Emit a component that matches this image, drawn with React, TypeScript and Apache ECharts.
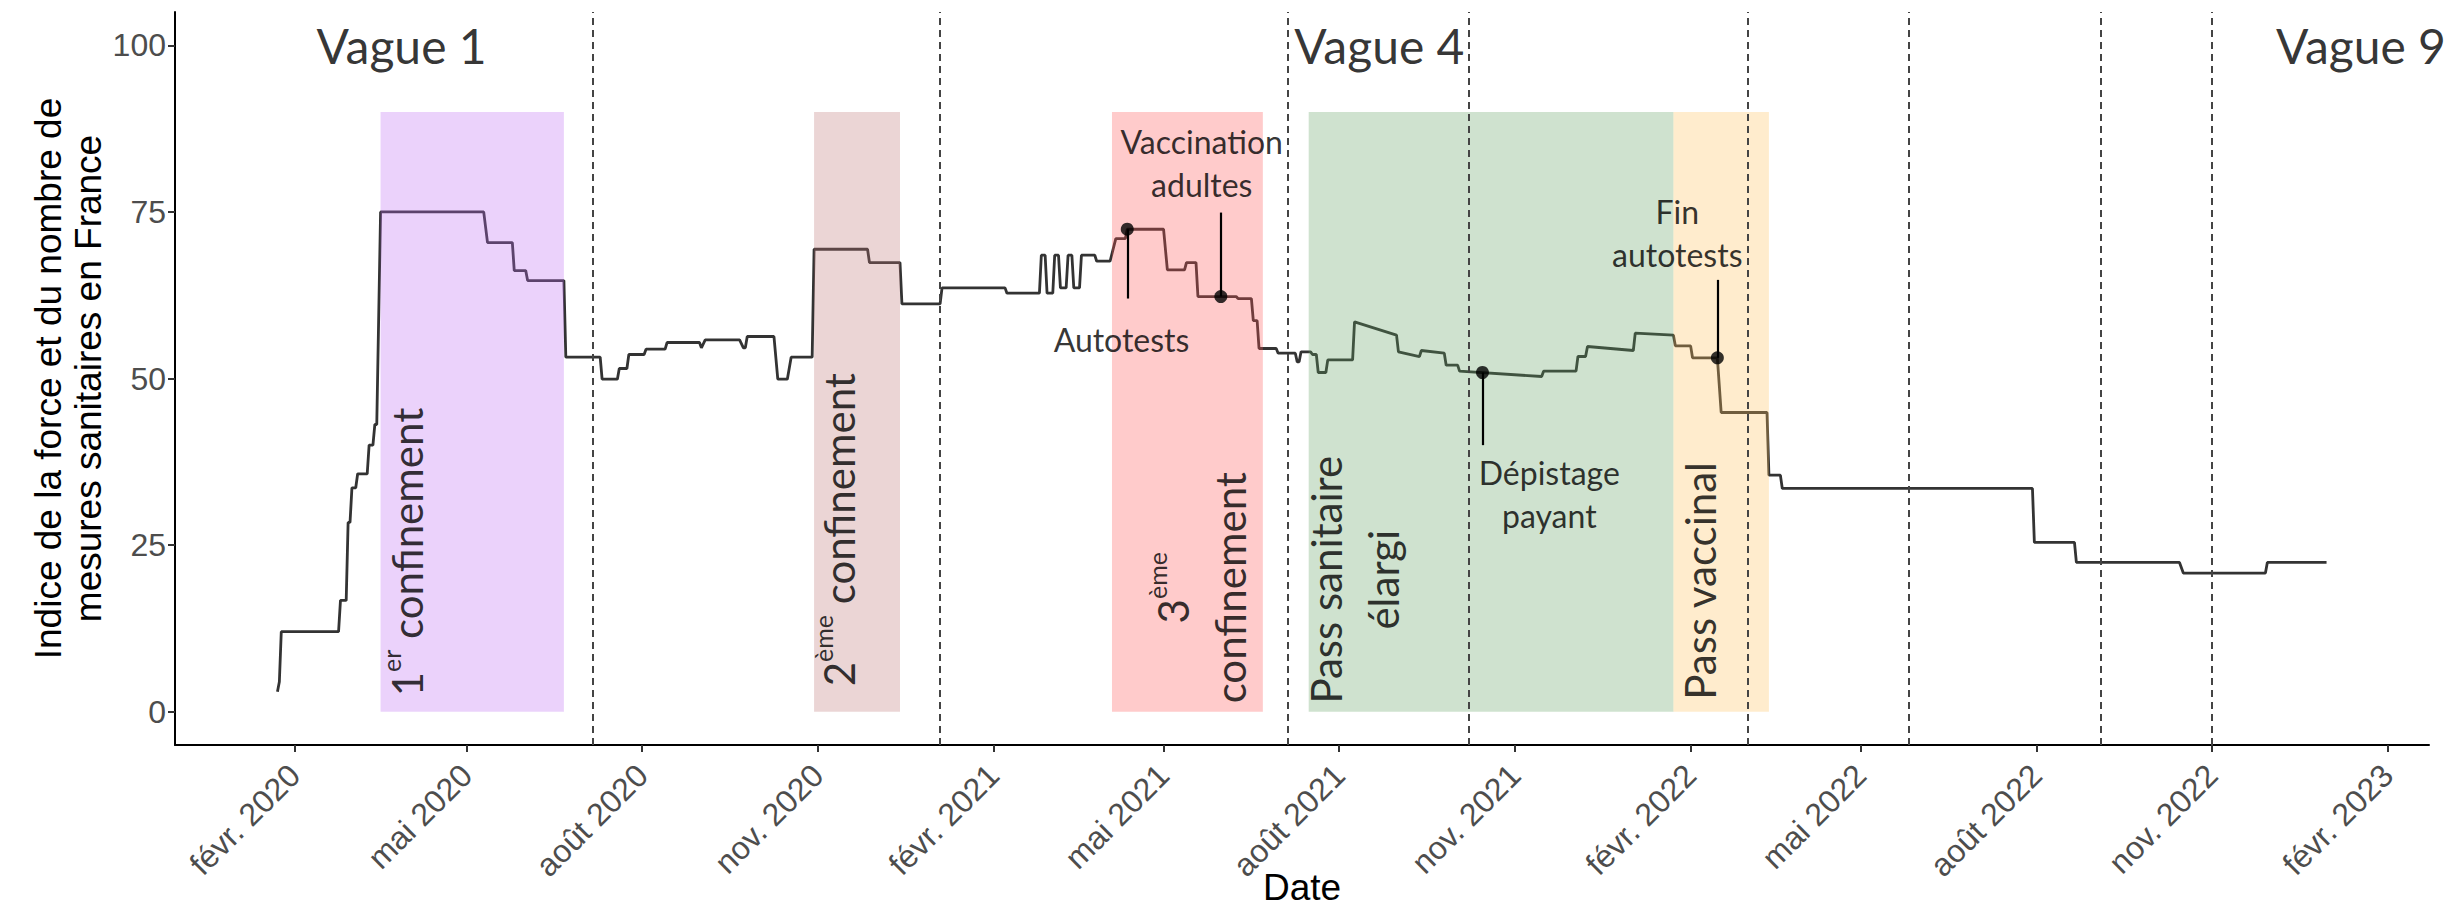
import React, { useEffect, useRef } from "react";
import * as echarts from "echarts";

// ---------- DATA ----------
// Index of strength / number of sanitary measures in France (daily)
const indexSeries: [string, number][] = [
  ["2020-01-23", 3.0], ["2020-01-24", 4.5], ["2020-01-25", 12.0], ["2020-02-24", 12.0],
  ["2020-02-25", 16.7], ["2020-02-28", 16.7], ["2020-02-29", 28.4], ["2020-03-01", 28.4],
  ["2020-03-02", 33.6], ["2020-03-04", 33.6], ["2020-03-05", 35.7], ["2020-03-10", 35.7],
  ["2020-03-11", 40.0], ["2020-03-13", 40.0], ["2020-03-14", 43.1], ["2020-03-15", 43.1],
  ["2020-03-17", 75.0], ["2020-05-10", 75.0], ["2020-05-12", 70.4], ["2020-05-25", 70.4],
  ["2020-05-26", 66.2], ["2020-06-01", 66.2], ["2020-06-02", 64.7], ["2020-06-21", 64.7],
  ["2020-06-22", 53.2], ["2020-07-10", 53.2], ["2020-07-11", 49.9], ["2020-07-19", 49.9],
  ["2020-07-20", 51.5], ["2020-07-24", 51.5], ["2020-07-25", 53.6], ["2020-08-02", 53.6],
  ["2020-08-03", 54.4], ["2020-08-13", 54.4], ["2020-08-14", 55.4], ["2020-08-31", 55.4],
  ["2020-09-01", 54.6], ["2020-09-03", 55.8], ["2020-09-21", 55.8], ["2020-09-23", 54.6],
  ["2020-09-24", 54.6], ["2020-09-25", 56.3], ["2020-10-09", 56.3], ["2020-10-11", 49.9],
  ["2020-10-16", 49.9], ["2020-10-18", 53.2], ["2020-10-29", 53.2], ["2020-10-30", 69.4],
  ["2020-11-27", 69.4], ["2020-11-28", 67.4], ["2020-12-14", 67.4], ["2020-12-15", 61.2],
  ["2021-01-04", 61.2], ["2021-01-05", 63.6], ["2021-02-07", 63.6], ["2021-02-08", 62.8],
  ["2021-02-25", 62.8], ["2021-02-26", 68.5], ["2021-02-28", 68.5], ["2021-03-01", 62.8],
  ["2021-03-04", 62.8], ["2021-03-05", 68.5], ["2021-03-07", 68.5], ["2021-03-08", 63.6],
  ["2021-03-11", 63.6], ["2021-03-12", 68.5], ["2021-03-14", 68.5], ["2021-03-15", 63.6],
  ["2021-03-18", 63.6], ["2021-03-19", 68.5], ["2021-03-26", 68.5], ["2021-03-27", 67.6],
  ["2021-04-03", 67.6], ["2021-04-06", 71.0], ["2021-04-11", 71.0], ["2021-04-12", 72.4],
  ["2021-05-01", 72.4], ["2021-05-03", 66.3], ["2021-05-12", 66.3], ["2021-05-13", 67.4],
  ["2021-05-18", 67.4], ["2021-05-19", 62.3], ["2021-06-08", 62.3], ["2021-06-09", 62.0],
  ["2021-06-16", 62.0], ["2021-06-17", 58.7], ["2021-06-19", 58.7], ["2021-06-20", 54.5],
  ["2021-06-29", 54.5], ["2021-06-30", 53.8], ["2021-07-09", 53.8], ["2021-07-10", 52.5],
  ["2021-07-11", 52.5], ["2021-07-12", 54.0], ["2021-07-17", 54.0], ["2021-07-18", 53.6],
  ["2021-07-20", 53.6], ["2021-07-21", 50.9], ["2021-07-25", 50.9], ["2021-07-26", 52.8],
  ["2021-08-08", 52.8], ["2021-08-09", 58.5], ["2021-08-31", 56.5], ["2021-09-01", 54.0],
  ["2021-09-12", 53.3], ["2021-09-13", 54.2], ["2021-09-25", 53.8], ["2021-09-26", 52.0],
  ["2021-10-02", 52.0], ["2021-10-03", 51.1], ["2021-11-15", 50.3], ["2021-11-16", 51.1],
  ["2021-12-03", 51.1], ["2021-12-04", 53.3], ["2021-12-08", 53.3], ["2021-12-09", 54.8],
  ["2022-01-02", 54.2], ["2022-01-03", 56.8], ["2022-01-23", 56.5], ["2022-01-24", 54.9],
  ["2022-02-01", 54.9], ["2022-02-02", 53.1], ["2022-02-15", 53.1], ["2022-02-17", 44.9],
  ["2022-03-13", 44.9], ["2022-03-14", 35.5], ["2022-03-20", 35.5], ["2022-03-21", 33.5],
  ["2022-07-30", 33.5], ["2022-07-31", 25.4], ["2022-08-21", 25.4], ["2022-08-22", 22.4],
  ["2022-10-15", 22.4], ["2022-10-17", 20.8], ["2022-11-29", 20.8], ["2022-11-30", 22.4],
  ["2022-12-31", 22.4],
];

// x-axis ticks
const xTickDates = [
  "2020-02-01", "2020-05-01", "2020-08-01", "2020-11-01", "2021-02-01", "2021-05-01",
  "2021-08-01", "2021-11-01", "2022-02-01", "2022-05-01", "2022-08-01", "2022-11-01", "2023-02-01",
];
const xTickLabels = [
  "févr. 2020", "mai 2020", "août 2020", "nov. 2020", "févr. 2021", "mai 2021",
  "août 2021", "nov. 2021", "févr. 2022", "mai 2022", "août 2022", "nov. 2022", "févr. 2023",
];
const yTickValues = [0, 25, 50, 75, 100];

// shaded periods
const periodStart = ["2020-03-17", "2020-10-30", "2021-04-04", "2021-07-16", "2022-01-23"];
const periodEnd = ["2020-06-21", "2020-12-14", "2021-06-22", "2022-01-23", "2022-03-14"];
const periodTop = 90;
const periodBottom = 0;

// rotated period labels
const periodLabels = [
  "{n|1}{s|er}{n| confinement}",
  "{n|2}{s|ème}{n| confinement}",
  "{n|3}{s|ème}\n{n|confinement}",
  "{n|Pass sanitaire}\n{n|élargi}",
  "{n|Pass vaccinal}",
];
const periodLabelDates = ["2020-03-31", "2020-11-12", "2021-05-21", "2021-08-09", "2022-02-06"];
const periodLabelValues = [2.3, 3.8, 18.6, 19.8, 1.8];
const periodLabelCentered = [false, false, true, true, false];

// epidemic wave boundaries and labels
const waveBoundaryDates = [
  "2020-07-06", "2021-01-04", "2021-07-05", "2021-10-08",
  "2022-03-03", "2022-05-26", "2022-09-04", "2022-11-01",
];
const waveLabels = ["Vague 1", "Vague 4", "Vague 9"];
const waveLabelDates = ["2020-03-28", "2021-08-22", "2023-01-18"];
const waveLabelLevel = 100;

// point events
const eventDates = ["2021-04-12", "2021-05-31", "2021-10-15", "2022-02-15"];
const eventValues = [72.4, 62.3, 50.9, 53.1];
const eventSegmentEnds = [62.0, 74.9, 40.0, 64.8];
const eventTexts = ["Autotests", "Vaccination\nadultes", "Dépistage\npayant", "Fin\nautotests"];
const eventTextDates = ["2021-04-09", "2021-05-21", "2021-11-19", "2022-01-25"];
const eventTextValues = [55.9, 82.4, 32.6, 71.8];

// ---------- STYLE ----------
const periodFills = [
  "rgba(188,105,242,0.3)",
  "rgba(188,115,115,0.3)",
  "rgba(255,82,82,0.3)",
  "rgba(95,158,95,0.3)",
  "rgba(255,192,88,0.3)",
];
const AXIS_FONT = '"Liberation Sans", Arial, sans-serif';
const ANNOT_FONT = 'Lato, "Open Sans", sans-serif';

const toMs = (s: string) => {
  const [y, m, d] = s.split("-").map(Number);
  return Date.UTC(y, m - 1, d);
};

export default function App() {
  const ref = useRef<HTMLDivElement>(null);

  useEffect(() => {
    document.body.style.margin = "0";
    const chart = echarts.init(ref.current as HTMLDivElement, null, { renderer: "svg" });

    const lineData = indexSeries.map(([d, v]) => [toMs(d), v]);
    const start = lineData[0][0] as number;
    const end = lineData[lineData.length - 1][0] as number;
    const pad = (end - start) * 0.05;
    const xTicks = xTickDates.map(toMs);

    const invisible = { color: "transparent" };

    const periodLabelData = periodLabels.map((txt, i) => ({
      value: [toMs(periodLabelDates[i]), periodLabelValues[i]],
      label: {
        show: true,
        position: "inside",
        rotate: 90,
        formatter: txt,
        align: periodLabelCentered[i] ? "center" : "left",
        verticalAlign: "middle",
        rich: {
          n: { fontFamily: ANNOT_FONT, fontSize: 42, color: "#000", lineHeight: 57 },
          s: { fontFamily: ANNOT_FONT, fontSize: 25, color: "#000", lineHeight: 32, verticalAlign: "top" },
        },
      },
    }));

    const eventTextData = eventTexts.map((txt, i) => ({
      value: [toMs(eventTextDates[i]), eventTextValues[i]],
      label: {
        show: true,
        position: "inside",
        formatter: txt,
        align: "center",
        verticalAlign: "middle",
        fontFamily: ANNOT_FONT,
        fontSize: 32,
        lineHeight: 43,
        color: "#000",
      },
    }));

    const waveData = waveLabels.map((txt, i) => ({
      value: [toMs(waveLabelDates[i]), waveLabelLevel],
      label: {
        show: true,
        position: "inside",
        formatter: txt,
        align: "center",
        verticalAlign: "middle",
        fontFamily: ANNOT_FONT,
        fontSize: 48,
        color: "#000",
      },
    }));

    const option: any = {
      animation: false,
      grid: { left: 175, right: 26, top: 12, bottom: 166, outerBoundsMode: "none" },
      xAxis: {
        type: "value",
        min: start - pad,
        max: end + pad,
        name: "Date",
        nameLocation: "middle",
        nameGap: 124,
        nameMoveOverlap: false,
        nameTextStyle: { fontFamily: AXIS_FONT, fontSize: 37, color: "#000", lineHeight: 37 },
        axisLine: { show: true, onZero: false, lineStyle: { color: "#000", width: 2 } },
        axisTick: { show: true, length: 7, lineStyle: { color: "#333", width: 2 }, customValues: xTicks },
        axisLabel: {
          customValues: xTicks,
          rotate: 45,
          margin: 25,
          padding: [25, 0, 0, 0],
          fontFamily: AXIS_FONT,
          fontSize: 32,
          color: "#4d4d4d",
          formatter: (v: number) => {
            const i = xTicks.findIndex((t) => Math.abs(t - v) < 3600000);
            return i >= 0 ? xTickLabels[i] : "";
          },
        },
        splitLine: { show: false },
      },
      yAxis: {
        type: "value",
        min: -5,
        max: 105,
        name: "Indice de la force et du nombre de\nmesures sanitaires en France",
        nameLocation: "middle",
        nameGap: 67,
        nameMoveOverlap: false,
        nameTextStyle: {
          fontFamily: AXIS_FONT,
          fontSize: 37,
          color: "#000",
          lineHeight: 40,
          width: 900,
          overflow: "none",
        },
        axisLine: { show: true, onZero: false, lineStyle: { color: "#000", width: 2 } },
        axisTick: { show: true, length: 7, lineStyle: { color: "#333", width: 2 }, customValues: yTickValues },
        axisLabel: {
          customValues: yTickValues,
          margin: 9,
          fontFamily: AXIS_FONT,
          fontSize: 32,
          color: "#4d4d4d",
        },
        splitLine: { show: false },
      },
      series: [
        {
          type: "line",
          z: 2,
          silent: true,
          data: lineData,
          showSymbol: false,
          lineStyle: { color: "#333333", width: 2.8 },
          markLine: {
            silent: true,
            symbol: ["none", "none"],
            label: { show: false },
            lineStyle: { color: "#444", width: 2, type: [7, 5] },
            data: waveBoundaryDates.map((d) => ({ xAxis: toMs(d) })),
          },
        },
        {
          type: "custom",
          z: 3,
          silent: true,
          data: periodStart.map((s, i) => [toMs(s), toMs(periodEnd[i]), periodTop, periodBottom, i]),
          encode: { x: [0, 1], y: [2, 3] },
          renderItem: (_params: any, api: any) => {
            const p0 = api.coord([api.value(0), api.value(3)]);
            const p1 = api.coord([api.value(1), api.value(2)]);
            return {
              type: "rect",
              shape: { x: p0[0], y: p1[1], width: p1[0] - p0[0], height: p0[1] - p1[1] },
              style: { fill: periodFills[api.value(4)] },
            };
          },
        },
        {
          type: "scatter",
          z: 4,
          silent: true,
          symbolSize: 1,
          itemStyle: invisible,
          data: periodLabelData,
        },
        {
          type: "scatter",
          z: 6,
          silent: true,
          symbolSize: 13,
          itemStyle: { color: "#000" },
          data: eventDates.map((d, i) => [toMs(d), eventValues[i]]),
          markLine: {
            silent: true,
            symbol: ["none", "none"],
            label: { show: false },
            lineStyle: { color: "#000", width: 2.2, type: "solid" },
            data: eventDates.map((d, i) => [
              { coord: [toMs(d), eventValues[i]] },
              { coord: [toMs(d), eventSegmentEnds[i]] },
            ]),
          },
        },
        {
          type: "scatter",
          z: 6,
          silent: true,
          symbolSize: 1,
          itemStyle: invisible,
          data: eventTextData,
        },
        {
          type: "scatter",
          z: 6,
          silent: true,
          symbolSize: 1,
          itemStyle: invisible,
          data: waveData,
        },
      ],
    };

    chart.setOption(option);
    return () => chart.dispose();
  }, []);

  return <div ref={ref} style={{ width: 2455, height: 911 }} />;
}
